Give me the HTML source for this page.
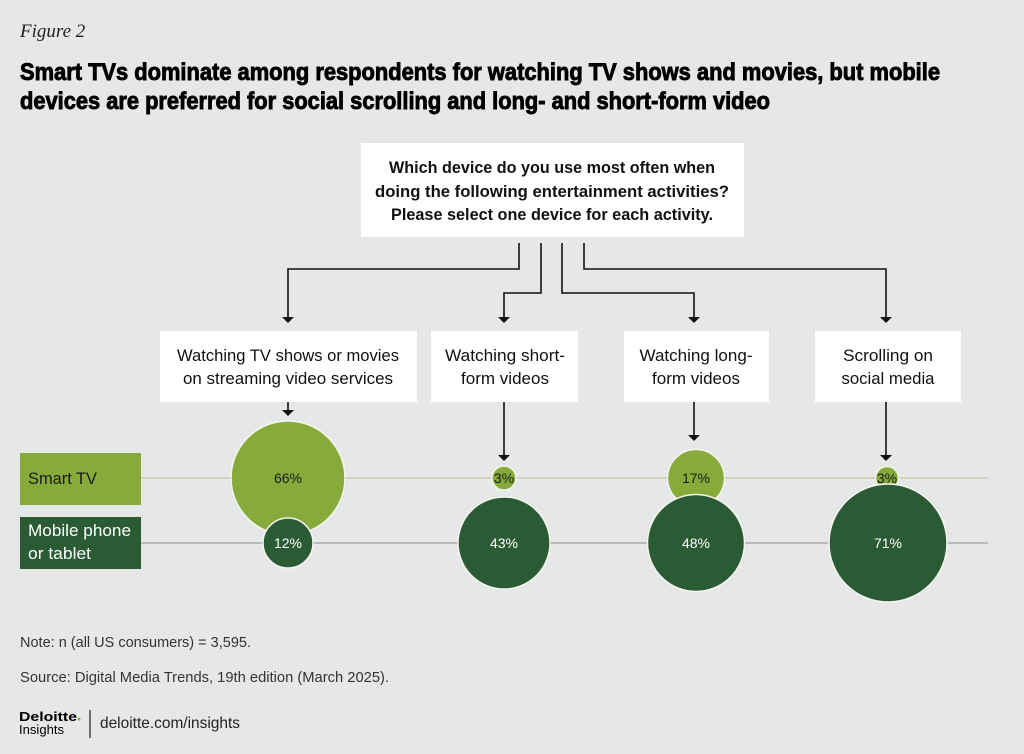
<!DOCTYPE html>
<html><head><meta charset="utf-8"><style>
html,body{margin:0;padding:0;background:#e6e8e8}
svg{display:block}
text{font-family:"Liberation Sans Narrow","Liberation Sans",sans-serif}
</style></head><body>
<svg width="1024" height="754" viewBox="0 0 1024 754">
<rect width="1024" height="754" fill="#e6e8e8"/>
<text x="20" y="37" font-family="Liberation Serif" font-style="italic" font-size="19" fill="#222" style="font-family:'Liberation Serif',serif">Figure 2</text>
<g stroke="#000" stroke-width="0.9">
<text x="20" y="80" font-size="24" font-weight="bold" fill="#000" textLength="920" lengthAdjust="spacingAndGlyphs">Smart TVs dominate among respondents for watching TV shows and movies, but mobile</text>
<text x="20" y="109" font-size="24" font-weight="bold" fill="#000" textLength="750" lengthAdjust="spacingAndGlyphs">devices are preferred for social scrolling and long- and short-form video</text>
</g>

<rect x="361" y="143" width="383" height="94" fill="#fff"/>
<g font-size="17" font-weight="bold" fill="#111" text-anchor="middle">
<text x="552" y="173" textLength="326" lengthAdjust="spacingAndGlyphs">Which device do you use most often when</text>
<text x="552" y="197" textLength="354" lengthAdjust="spacingAndGlyphs">doing the following entertainment activities?</text>
<text x="552" y="220" textLength="322" lengthAdjust="spacingAndGlyphs">Please select one device for each activity.</text>
</g>

<g stroke="#111" stroke-width="1.6" fill="none">
<polyline points="519,243 519,269 288,269 288,318"/>
<polyline points="541,243 541,293 504,293 504,318"/>
<polyline points="562,243 562,293 694,293 694,318"/>
<polyline points="584,243 584,269 886,269 886,318"/>
<line x1="288" y1="402" x2="288" y2="411"/>
<line x1="504" y1="402" x2="504" y2="456"/>
<line x1="694" y1="402" x2="694" y2="436"/>
<line x1="886" y1="402" x2="886" y2="456"/>
</g>
<g fill="#111">
<polygon points="282,317 294,317 288,323"/>
<polygon points="498,317 510,317 504,323"/>
<polygon points="688,317 700,317 694,323"/>
<polygon points="880,317 892,317 886,323"/>
<polygon points="282,410 294,410 288,416"/>
<polygon points="498,455 510,455 504,461"/>
<polygon points="688,435 700,435 694,441"/>
<polygon points="880,455 892,455 886,461"/>
</g>

<g fill="#fff">
<rect x="160" y="331" width="257" height="71"/>
<rect x="431" y="331" width="147" height="71"/>
<rect x="624" y="331" width="145" height="71"/>
<rect x="815" y="331" width="146" height="71"/>
</g>
<g font-size="17" fill="#111" text-anchor="middle">
<text x="288" y="361" textLength="222" lengthAdjust="spacingAndGlyphs">Watching TV shows or movies</text>
<text x="288" y="384" textLength="210" lengthAdjust="spacingAndGlyphs">on streaming video services</text>
<text x="505" y="361" textLength="120" lengthAdjust="spacingAndGlyphs">Watching short-</text>
<text x="505" y="384" textLength="88" lengthAdjust="spacingAndGlyphs">form videos</text>
<text x="696" y="361" textLength="113" lengthAdjust="spacingAndGlyphs">Watching long-</text>
<text x="696" y="384" textLength="88" lengthAdjust="spacingAndGlyphs">form videos</text>
<text x="888" y="361" textLength="90" lengthAdjust="spacingAndGlyphs">Scrolling on</text>
<text x="888" y="384" textLength="93" lengthAdjust="spacingAndGlyphs">social media</text>
</g>

<line x1="141" y1="478" x2="988" y2="478" stroke="#c9ccb4" stroke-width="1.5"/>
<line x1="141" y1="543" x2="988" y2="543" stroke="#a9acac" stroke-width="1.5"/>
<rect x="20" y="453" width="121" height="52" fill="#86ab3a"/>
<rect x="20" y="517" width="121" height="52" fill="#2b5b35"/>
<text x="28" y="484" font-size="17" fill="#1a1a1a" textLength="69" lengthAdjust="spacingAndGlyphs">Smart TV</text>
<text x="28" y="536" font-size="17" fill="#fff" textLength="103" lengthAdjust="spacingAndGlyphs">Mobile phone</text>
<text x="28" y="559" font-size="17" fill="#fff" textLength="63" lengthAdjust="spacingAndGlyphs">or tablet</text>

<g stroke="#f4f6ee" stroke-width="1.5">
<circle cx="288" cy="478" r="57" fill="#86ab3a"/>
<circle cx="288" cy="543" r="25" fill="#2b5b35"/>
<circle cx="504" cy="478" r="12" fill="#86ab3a"/>
<circle cx="504" cy="543" r="46" fill="#2b5b35"/>
<circle cx="696" cy="478" r="28.5" fill="#86ab3a"/>
<circle cx="696" cy="543" r="48.5" fill="#2b5b35"/>
<circle cx="887" cy="478" r="11.5" fill="#86ab3a"/>
<circle cx="888" cy="543" r="59" fill="#2b5b35"/>
</g>
<g font-size="14" text-anchor="middle">
<text x="288" y="483" fill="#1a1a1a">66%</text>
<text x="288" y="548" fill="#fff">12%</text>
<text x="504" y="483" fill="#1a1a1a">3%</text>
<text x="504" y="548" fill="#fff">43%</text>
<text x="696" y="483" fill="#1a1a1a">17%</text>
<text x="696" y="548" fill="#fff">48%</text>
<text x="887" y="483" fill="#1a1a1a">3%</text>
<text x="888" y="548" fill="#fff">71%</text>
</g>

<text x="20" y="647" font-size="15" fill="#333" textLength="231" lengthAdjust="spacingAndGlyphs">Note: n (all US consumers) = 3,595.</text>
<text x="20" y="682" font-size="15" fill="#333" textLength="369" lengthAdjust="spacingAndGlyphs">Source: Digital Media Trends, 19th edition (March 2025).</text>
<text x="19" y="721" font-size="13" font-weight="bold" fill="#000" textLength="58" lengthAdjust="spacingAndGlyphs" style="font-family:'Liberation Sans',sans-serif">Deloitte</text>
<circle cx="79" cy="719" r="1.5" fill="#86bc25"/>
<text x="19" y="734" font-size="13" fill="#000" textLength="45" lengthAdjust="spacingAndGlyphs">Insights</text>
<line x1="90" y1="710" x2="90" y2="738" stroke="#222" stroke-width="1.2"/>
<text x="100" y="728" font-size="16" fill="#222" textLength="140" lengthAdjust="spacingAndGlyphs">deloitte.com/insights</text>
</svg>
</body></html>
